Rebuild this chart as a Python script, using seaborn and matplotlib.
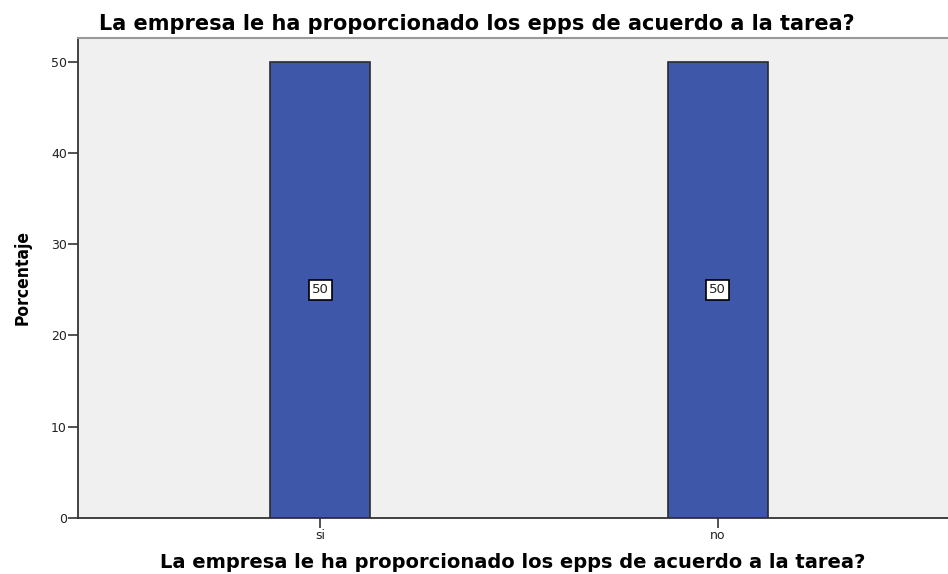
import matplotlib
matplotlib.use('Agg')
import matplotlib.pyplot as plt
import seaborn as sns
import pandas as pd

categories = ['si', 'no']
percent = [50, 50]
y_ticks = [0, 10, 20, 30, 40, 50]
title_text = 'La empresa le ha proporcionado los epps de acuerdo a la tarea?'

df = pd.DataFrame({'cat': categories, 'pct': percent})

sns.set_style('white')
plt.rcParams['font.family'] = ['DejaVu Sans']

fig = plt.figure(figsize=(9.48, 5.74), dpi=100)
ax = fig.add_axes([0.0823, 0.0976, 0.9177, 0.8362])
ax.set_facecolor('#F0F0F0')

sns.barplot(data=df, x='cat', y='pct', ax=ax, width=0.252, color='#3F57A8',
            edgecolor='#2B2B2B', linewidth=1.2, saturation=1)

# value labels in white boxes at half bar height
for i, v in enumerate(percent):
    ax.text(i, v / 2, str(v), ha='center', va='center', fontsize=9.5, color='#222222',
            bbox=dict(boxstyle='square,pad=0.25', facecolor='white', edgecolor='black', linewidth=1.2))

ax.set_xlim(-0.61, 1.58)
ax.set_ylim(0, 52.6)
ax.set_yticks(y_ticks)
ax.tick_params(axis='both', direction='out', length=7, width=1.2, color='#333333',
               labelsize=9, labelcolor='#222222', left=True, bottom=True, pad=1)

for side in ['left', 'bottom']:
    ax.spines[side].set_color('#333333')
    ax.spines[side].set_linewidth(1.3)
ax.spines['top'].set_color('#999999')
ax.spines['top'].set_linewidth(1.5)
ax.spines['right'].set_visible(False)

ax.set_xlabel(title_text, fontsize=14, fontweight='bold', labelpad=8, color='black')
ax.set_ylabel('Porcentaje', fontsize=12.5, fontweight='bold', labelpad=14, color='black',
              fontstretch='condensed')

fig.text(0.503, 0.958, title_text, ha='center', va='center', fontsize=15, fontweight='bold',
         color='black')

fig.savefig('out.png', dpi=100)
